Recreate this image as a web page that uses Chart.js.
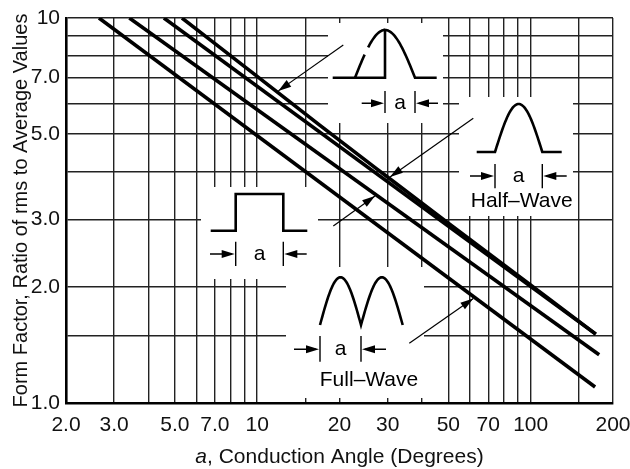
<!DOCTYPE html>
<html>
<head>
<meta charset="utf-8">
<script src="https://cdn.jsdelivr.net/npm/chart.js@4.4.0/dist/chart.umd.min.js"></script>
<style>
  html, body { margin: 0; padding: 0; background: #fff; }
  canvas { display: block; }
</style>
</head>
<body>
<canvas id="formFactorChart" width="630" height="469"></canvas>
<script>
// conduction angle (deg) and form factor
const fullWaveAngle = [2.64, 172];
const fullWaveFF = [10, 1.10];
const rectAngle = [3.41, 178];
const rectFF = [10, 1.335];
const halfWaveAngle = [4.56, 173];
const halfWaveFF = [10, 1.51];
const phaseAngle = [5.31, 9.42, 16.97, 29.3, 50.7, 173];
const phaseFF = [10, 7.29, 5.26, 3.91, 2.91, 1.51];

const xTicks = [2, 3, 4, 5, 6, 7, 8, 9, 10, 15, 20, 30, 40, 50, 60, 70, 80, 90, 100, 150, 200];
const xTickLabels = { 2: '2.0', 3: '3.0', 5: '5.0', 7: '7.0', 10: '10', 20: '20', 30: '30', 50: '50', 70: '70', 100: '100', 200: '200' };
const yTicks = [1, 1.5, 2, 3, 4, 5, 6, 7, 8, 9, 10];
const yTickLabels = { 1: '1.0', 2: '2.0', 3: '3.0', 5: '5.0', 7: '7.0', 10: '10' };

const FONT = '"Liberation Sans", Arial, Helvetica, sans-serif';
const pts = (xs, ys) => xs.map((x, i) => ({ x: x, y: ys[i] }));

Chart.defaults.font.family = FONT;
Chart.defaults.color = '#111';

// sine arch between x0 (0 deg) and x1 (180 deg), drawn from angle a to b
function arch(ctx, x0, x1, yb, h, a, b, move) {
  for (let t = a; t <= b + 0.001; t += 3) {
    const x = x0 + (x1 - x0) * t / 180;
    const y = yb - h * Math.sin(t * Math.PI / 180);
    if (move && t === a) ctx.moveTo(x, y); else ctx.lineTo(x, y);
  }
}

function head(ctx, fx, fy, tx, ty, len, hw) {
  const ang = Math.atan2(ty - fy, tx - fx);
  ctx.beginPath();
  ctx.moveTo(tx, ty);
  ctx.lineTo(tx - len * Math.cos(ang) + hw * Math.sin(ang), ty - len * Math.sin(ang) - hw * Math.cos(ang));
  ctx.lineTo(tx - len * Math.cos(ang) - hw * Math.sin(ang), ty - len * Math.sin(ang) + hw * Math.cos(ang));
  ctx.closePath();
  ctx.fill();
}

// the "->| a |<-" width marker under each sketch
function dim(ctx, xa, xb, y0, y1, ya, tl, tr, base) {
  ctx.lineWidth = 1.4;
  ctx.beginPath();
  ctx.moveTo(xa, y0); ctx.lineTo(xa, y1);
  ctx.moveTo(xb, y0); ctx.lineTo(xb, y1);
  ctx.moveTo(tl, ya); ctx.lineTo(xa - 4, ya);
  ctx.moveTo(tr, ya); ctx.lineTo(xb + 4, ya);
  ctx.stroke();
  head(ctx, tl, ya, xa - 1, ya, 13, 4);
  head(ctx, tr, ya, xb + 1, ya, 13, 4);
  ctx.font = '21px ' + FONT;
  ctx.textAlign = 'center';
  ctx.textBaseline = 'alphabetic';
  ctx.fillText('a', (xa + xb) / 2, base);
}

function yOnLine(chart, di, px) {
  const p = chart.getDatasetMeta(di).data;
  for (let i = 0; i < p.length - 1; i++) {
    if (px >= p[i].x && px <= p[i + 1].x) {
      return p[i].y + (p[i + 1].y - p[i].y) * (px - p[i].x) / (p[i + 1].x - p[i].x);
    }
  }
  return p[p.length - 1].y;
}

const insets = {
  id: 'insets',
  beforeDatasetsDraw(chart) {
    const { ctx, chartArea: ca } = chart;
    ctx.save();
    ctx.fillStyle = '#fff';
    [[262, 5, 115, 100], [393, 79, 114, 119], [135, 169, 117, 92], [220, 249, 138, 131]]
      .forEach(b => ctx.fillRect(ca.left + b[0], ca.top + b[1], b[2], b[3]));
    ctx.restore();
  },
  afterDatasetsDraw(chart) {
    const { ctx, chartArea: ca } = chart;
    ctx.save();
    ctx.strokeStyle = '#000';
    ctx.fillStyle = '#000';

    // pointers from the sketches to their curves
    ctx.lineWidth = 1.2;
    [[277.3, 27, 212.3, 3, -2], [407.3, 100.3, 324, 3, -2], [267.3, 208, 309, 1, 2], [343.3, 325.3, 407.3, 0, 2]]
      .forEach(a => {
        const fx = ca.left + a[0], fy = ca.top + a[1];
        const tx = ca.left + a[2], ty = yOnLine(chart, a[3], tx) + a[4];
        ctx.beginPath(); ctx.moveTo(fx, fy); ctx.lineTo(tx, ty); ctx.stroke();
        head(ctx, fx, fy, tx, ty, 13, 4);
      });

    ctx.translate(ca.left, ca.top);
    ctx.lineJoin = 'miter';

    // phase controlled half wave
    ctx.lineWidth = 2.6;
    ctx.beginPath();
    ctx.moveTo(266.7, 59.7); ctx.lineTo(319, 59.7); ctx.lineTo(319, 12);
    arch(ctx, 289, 349, 59.7, 47.7, 90, 180, false);
    ctx.lineTo(370.7, 59.7);
    ctx.stroke();
    ctx.setLineDash([25, 8, 200]);
    ctx.beginPath(); arch(ctx, 289, 349, 59.7, 47.7, 0, 90, true); ctx.stroke();
    ctx.setLineDash([]);
    dim(ctx, 319, 349, 73, 95, 85.3, 295.7, 372, 91);

    // half wave
    ctx.lineWidth = 2.6;
    ctx.beginPath();
    ctx.moveTo(410.7, 134); ctx.lineTo(429, 134);
    arch(ctx, 429, 476.3, 134, 48, 0, 180, false);
    ctx.lineTo(495.7, 134);
    ctx.stroke();
    dim(ctx, 429, 476.3, 146, 170.3, 158, 404, 500.7, 164.3);
    ctx.fillText('Half\u2013Wave', 455.7, 189.3);

    // rectangular
    ctx.lineWidth = 2.6;
    ctx.beginPath();
    ctx.moveTo(144.7, 212.7); ctx.lineTo(169.7, 212.7); ctx.lineTo(169.7, 176);
    ctx.lineTo(217.3, 176); ctx.lineTo(217.3, 212.7); ctx.lineTo(241.3, 212.7);
    ctx.stroke();
    dim(ctx, 169.7, 217.3, 223.7, 248, 236, 144, 240.7, 242);

    // full wave
    ctx.lineWidth = 2.6;
    ctx.beginPath();
    arch(ctx, 254, 295, 307, 47.7, 0, 180, true);
    arch(ctx, 295, 336.7, 307, 47.7, 0, 180, false);
    ctx.stroke();
    dim(ctx, 254, 295, 318, 343.7, 331.3, 228, 320, 337);
    ctx.fillText('Full\u2013Wave', 303, 368);

    ctx.restore();
  },
  afterDraw(chart) {
    const { ctx, chartArea: ca } = chart;
    ctx.save();
    ctx.fillStyle = '#111';
    ctx.textBaseline = 'alphabetic';
    // x title with italic a
    const cx = (ca.left + ca.right) / 2;
    ctx.font = 'italic 21px ' + FONT;
    const wa = ctx.measureText('a').width;
    ctx.font = '21px ' + FONT;
    const rest = ', Conduction Angle (Degrees)';
    const wr = ctx.measureText(rest).width;
    const x0 = cx - (wa + wr) / 2;
    ctx.textAlign = 'left';
    ctx.font = 'italic 21px ' + FONT;
    ctx.fillText('a', x0, 463);
    ctx.font = '21px ' + FONT;
    ctx.fillText(rest, x0 + wa, 463);
    // y title
    ctx.font = '20px ' + FONT;
    ctx.translate(26.5, (ca.top + ca.bottom) / 2);
    ctx.rotate(-Math.PI / 2);
    ctx.textAlign = 'center';
    ctx.fillText('Form Factor, Ratio of rms to Average Values', 0, 0);
    ctx.restore();
  }
};

const lineStyle = { borderColor: '#000', borderWidth: 3.6, pointRadius: 0, fill: false, tension: 0 };

new Chart(document.getElementById('formFactorChart'), {
  type: 'line',
  data: {
    datasets: [
      Object.assign({ label: 'Full-Wave', data: pts(fullWaveAngle, fullWaveFF) }, lineStyle),
      Object.assign({ label: 'Rectangular', data: pts(rectAngle, rectFF) }, lineStyle),
      Object.assign({ label: 'Half-Wave', data: pts(halfWaveAngle, halfWaveFF) }, lineStyle),
      Object.assign({ label: 'Phase Controlled', data: pts(phaseAngle, phaseFF) }, lineStyle,
        { cubicInterpolationMode: 'monotone' })
    ]
  },
  options: {
    responsive: false,
    animation: false,
    events: [],
    layout: { padding: { top: 18, right: 17, left: 0, bottom: 0 } },
    plugins: { legend: { display: false }, tooltip: { enabled: false } },
    scales: {
      x: {
        type: 'logarithmic',
        min: 2,
        max: 200,
        afterBuildTicks: s => { s.ticks = xTicks.map(v => ({ value: v })); },
        afterFit: s => { s.height = 66; s.paddingLeft = 0; s.paddingRight = 0; },
        ticks: {
          autoSkip: false, maxRotation: 0, minRotation: 0, padding: 10,
          font: { size: 21 },
          callback: v => xTickLabels[v] || ''
        },
        grid: { color: '#222', lineWidth: 1.4, drawTicks: false },
        border: { color: '#000', width: 2.6 }
      },
      y: {
        type: 'logarithmic',
        min: 1,
        max: 10,
        afterBuildTicks: s => { s.ticks = yTicks.map(v => ({ value: v })); },
        afterFit: s => { s.width = 66; s.paddingTop = 0; s.paddingBottom = 0; },
        ticks: {
          autoSkip: false, padding: 6,
          font: { size: 21 },
          callback: v => yTickLabels[v] || ''
        },
        grid: { color: '#222', lineWidth: 1.4, drawTicks: false },
        border: { color: '#000', width: 2.6 }
      }
    }
  },
  plugins: [insets]
});
</script>
</body>
</html>
